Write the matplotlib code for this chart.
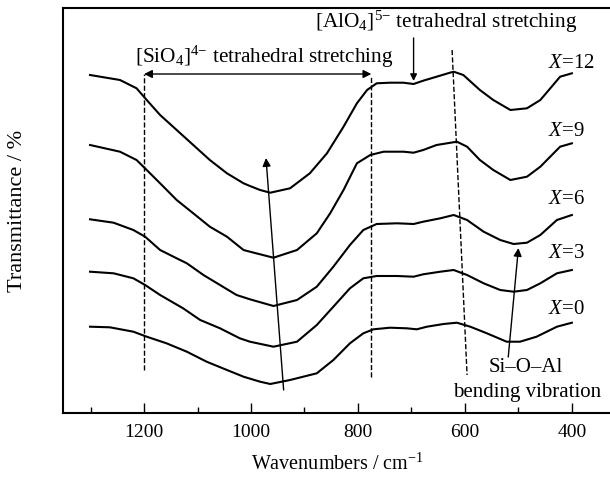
import numpy as np
import matplotlib
matplotlib.use('Agg')
import matplotlib.pyplot as plt

plt.rcParams['font.family'] = ['Liberation Serif', 'DejaVu Serif']
plt.rcParams['mathtext.fontset'] = 'custom'
plt.rcParams['mathtext.rm'] = 'Liberation Serif'
plt.rcParams['mathtext.it'] = 'Liberation Serif:italic'

# X=12 (wavenumber cm-1, transmittance in arbitrary offset units)
wn_x12 = [1301, 1245, 1214, 1195, 1170, 1139, 1108, 1077, 1045, 1014, 1002, 983,
          964, 927, 890, 858, 827, 802, 783, 765, 740, 715, 696, 678, 653, 628,
          621, 603, 572, 547, 515, 484, 459, 422, 400]
t_x12 = [338, 333, 324.7, 313, 298, 283, 268, 253, 239.7, 229.7, 227, 223,
         220.3, 224.7, 239.7, 259.7, 286.3, 309.7, 323, 329.7, 330.3, 330.3, 329, 332.3, 336.3, 340.3,
         341.3, 338, 323, 313, 303, 304.7, 313, 336.3, 339.7]

wn_x9 = [1301, 1245, 1214, 1195, 1170, 1139, 1108, 1077, 1045, 1014, 1002, 958,
         914, 877, 852, 827, 802, 777, 752, 715, 696, 678, 653, 615, 596, 572,
         547, 515, 484, 459, 422, 400]
t_x9 = [268, 261.3, 253, 243, 229.7, 213, 199.7, 186.3, 176.3, 163, 161.3, 155.3,
        163, 179.7, 199.7, 223, 249.7, 258, 261.3, 261.3, 260.3, 263, 268, 271.3, 266.3, 253,
        243, 233, 236.3, 246.3, 266.3, 269.7]

wn_x6 = [1301, 1257, 1220, 1198, 1170, 1139, 1120, 1089, 1058, 1027, 1002, 958,
         914, 877, 846, 815, 790, 765, 727, 696, 678, 646, 621, 596, 565, 534,
         509, 484, 459, 428, 400]
t_x6 = [193.7, 190.3, 183, 176.3, 163, 154.7, 149.7, 138, 128, 118, 113.7, 107,
        113, 126.3, 146.3, 168, 183, 189, 189.7, 189, 191.3, 194.7, 198, 193, 181.3, 173,
        169, 170.3, 178, 193, 198]

wn_x3 = [1301, 1257, 1220, 1198, 1170, 1127, 1095, 1058, 1021, 1002, 958, 914,
         877, 846, 815, 790, 765, 727, 696, 678, 646, 621, 596, 565, 534, 509,
         484, 459, 428, 400]
t_x3 = [141.3, 139.7, 134.7, 128, 118, 104.7, 93, 84.7, 74.7, 71.3, 66.3, 71.3,
        88, 106.3, 124.7, 134.7, 137, 137, 136.3, 138.7, 141.3, 143, 138, 129.7, 123, 121.3,
        123, 129.7, 139.7, 143]

wn_x0 = [1301, 1264, 1220, 1195, 1158, 1120, 1083, 1045, 1014, 983, 964, 927,
         877, 846, 815, 790, 771, 740, 709, 690, 671, 640, 615, 590, 559, 522,
         497, 466, 428, 400]
t_x0 = [86.3, 85.7, 81.3, 76.3, 69.7, 61.3, 51.3, 43, 36.3, 31.3, 29, 33,
        39.7, 53, 69.7, 79.7, 83.7, 85.3, 84.7, 83.7, 86.3, 89, 90.3, 86.3, 79.7, 71.3,
        71.3, 76.3, 86.3, 90.3]

curves = [(wn_x12, t_x12), (wn_x9, t_x9), (wn_x6, t_x6), (wn_x3, t_x3), (wn_x0, t_x0)]
labels = ['$X$=12', '$X$=9', '$X$=6', '$X$=3', '$X$=0']
label_y = [350, 281, 213, 159, 104]

fig = plt.figure(figsize=(6.1, 4.78), dpi=100)
ax = fig.add_axes([63.3 / 610, 65 / 478, (612 - 63.3) / 610, 405 / 478])

for w, t in curves:
    ax.plot(w, t, color='black', lw=1.5, solid_joinstyle='round')

for lab, ly in zip(labels, label_y):
    ax.text(445, ly, lab, fontsize=15, va='center', ha='left')

# dashed guide lines
ax.plot([1200, 1200], [43, 339], ls='--', color='black', lw=1)
ax.plot([775, 775], [36, 336], ls='--', color='black', lw=1)
ax.plot([624, 596], [363, 38], ls='--', color='black', lw=1)

# double arrow for SiO4 band
ax.annotate('', xy=(775, 339), xytext=(1200, 339),
            arrowprops=dict(arrowstyle='<|-|>', color='black', lw=1,
                            mutation_scale=12, shrinkA=0, shrinkB=0))
ax.text(1217, 356, '[SiO$_4$]$^{4{-}}$ tetrahedral stretching', fontsize=15.3,
        va='center', ha='left')

# AlO4 arrow
ax.annotate('', xy=(696, 332), xytext=(696, 375),
            arrowprops=dict(arrowstyle='-|>', color='black', lw=1,
                            mutation_scale=10, shrinkA=0, shrinkB=0))
ax.text(880, 391, '[AlO$_4$]$^{5{-}}$ tetrahedral stretching', fontsize=15.3,
        va='center', ha='left')

# trend arrow across minima
ax.annotate('', xy=(972, 255), xytext=(939, 23),
            arrowprops=dict(arrowstyle='-|>', color='black', lw=1,
                            mutation_scale=12, shrinkA=0, shrinkB=0))

# Si-O-Al arrow
ax.annotate('', xy=(500, 165), xytext=(519, 56),
            arrowprops=dict(arrowstyle='-|>', color='black', lw=1,
                            mutation_scale=12, shrinkA=0, shrinkB=0))
ax.text(487, 45, 'Si\u2013O\u2013Al', fontsize=15, va='center', ha='center')
ax.text(483, 20, 'bending vibration', fontsize=15, va='center', ha='center')

ax.set_xlim(1351, 325)
ax.set_ylim(0, 405)
ax.set_xticks([1200, 1000, 800, 600, 400])
ax.set_xticks([1300, 1100, 900, 700, 500], minor=True)
ax.set_yticks([])
ax.tick_params(axis='x', which='major', direction='in', length=7, width=1,
               labelsize=14, pad=8)
ax.tick_params(axis='x', which='minor', direction='in', length=4, width=1)
ax.spines['right'].set_visible(False)
for s in ['top', 'bottom', 'left']:
    ax.spines[s].set_linewidth(1.5)

ax.set_xlabel('Wavenumbers / cm$^{-1}$', fontsize=14.5, labelpad=9)
ax.set_ylabel('Transmittance / %', fontsize=16, labelpad=26)

fig.savefig('out.png', dpi=100)
